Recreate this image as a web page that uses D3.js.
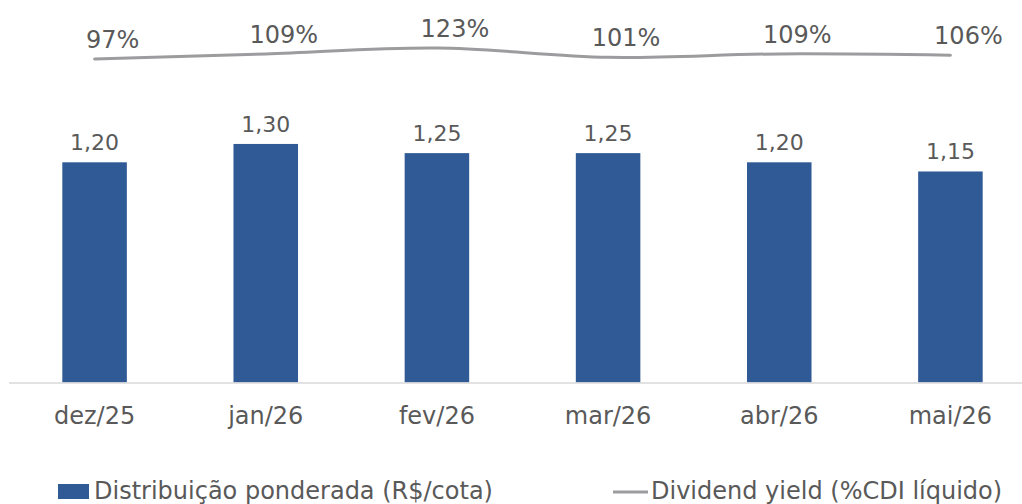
<!DOCTYPE html>
<html>
<head>
<meta charset="utf-8">
<script src="https://cdn.jsdelivr.net/npm/d3@7/dist/d3.min.js"></script>
<style>
  body { margin: 0; background: #fff; }
  svg text { font-family: "DejaVu Sans", sans-serif; fill: #595959; }
</style>
</head>
<body>
<svg id="chart" width="1022" height="504"></svg>
<script>
const months = ['dez/25', 'jan/26', 'fev/26', 'mar/26', 'abr/26', 'mai/26'];
const distribuicao = [1.20, 1.30, 1.25, 1.25, 1.20, 1.15];
const dividendYield = [97, 109, 123, 101, 109, 106];
const legendLabels = ['Distribuição ponderada (R$/cota)', 'Dividend yield (%CDI líquido)'];

main();

function main () {
  const svg = d3.select('#chart');
  const baseY = 382.5;

  const x = d3.scaleBand()
    .domain(months)
    .range([9, 1036])
    .paddingInner(0.623)
    .paddingOuter(0.3115);

  const y = d3.scaleLinear().domain([0, 2]).range([baseY, baseY - 367]);
  // secondary axis for the yield line
  const y2 = d3.scaleLinear().domain([97, 123]).range([59, 48]);

  drawBars(svg, x, y, baseY);
  drawAxis(svg, x, baseY);
  drawLine(svg, x, y2);
  drawLegend(svg);
}

function drawBars (svg, x, y, baseY) {
  svg.selectAll('rect.bar')
    .data(distribuicao)
    .enter()
    .append('rect')
    .attr('class', 'bar')
    .attr('x', (d, i) => x(months[i]))
    .attr('y', d => y(d))
    .attr('width', x.bandwidth())
    .attr('height', d => baseY - y(d))
    .attr('fill', '#2f5a96');

  svg.selectAll('text.barlabel')
    .data(distribuicao)
    .enter()
    .append('text')
    .attr('class', 'barlabel')
    .attr('x', (d, i) => x(months[i]) + x.bandwidth() / 2)
    .attr('y', d => y(d) - 12)
    .attr('text-anchor', 'middle')
    .attr('font-size', '22px')
    .text(d => d.toFixed(2).replace('.', ','));
}

function drawAxis (svg, x, baseY) {
  const axis = svg.append('g')
    .attr('transform', `translate(0,${baseY})`)
    .call(d3.axisBottom(x).tickSize(0).tickPadding(0));
  axis.select('.domain')
    .attr('d', `M${x.range()[0]},0.5H${x.range()[1]}`)
    .attr('stroke', '#d9d9d9')
    .attr('stroke-width', 1.5);
  axis.selectAll('text')
    .attr('dy', null)
    .attr('y', 41)
    .attr('font-size', '24px')
    .attr('font-family', '"DejaVu Sans", sans-serif')
    .attr('fill', '#595959');
}

function drawLine (svg, x, y2) {
  const pts = dividendYield.map((v, i) => ({ x: x(months[i]) + x.bandwidth() / 2, y: y2(v), v: v }));

  const lineFunction = d3.line()
    .x(d => d.x)
    .y(d => d.y)
    .curve(d3.curveCatmullRom.alpha(0.5));

  svg.append('path')
    .attr('d', lineFunction(pts))
    .attr('fill', 'none')
    .attr('stroke', '#9c9c9f')
    .attr('stroke-width', 3)
    .attr('stroke-linecap', 'round');

  svg.selectAll('text.yield')
    .data(pts)
    .enter()
    .append('text')
    .attr('class', 'yield')
    .attr('x', d => d.x + 18)
    .attr('y', d => d.y - 11)
    .attr('text-anchor', 'middle')
    .attr('font-size', '24px')
    .text(d => d.v + '%');
}

function drawLegend (svg) {
  svg.append('rect')
    .attr('x', 58).attr('y', 484)
    .attr('width', 31).attr('height', 15)
    .attr('fill', '#2f5a96');
  svg.append('text')
    .attr('x', 94).attr('y', 499)
    .attr('font-size', '24px')
    .text(legendLabels[0]);

  svg.append('line')
    .attr('x1', 613).attr('x2', 648)
    .attr('y1', 492).attr('y2', 492)
    .attr('stroke', '#9c9c9f')
    .attr('stroke-width', 3);
  svg.append('text')
    .attr('x', 651).attr('y', 499)
    .attr('font-size', '24px')
    .text(legendLabels[1]);
}
</script>
</body>
</html>
